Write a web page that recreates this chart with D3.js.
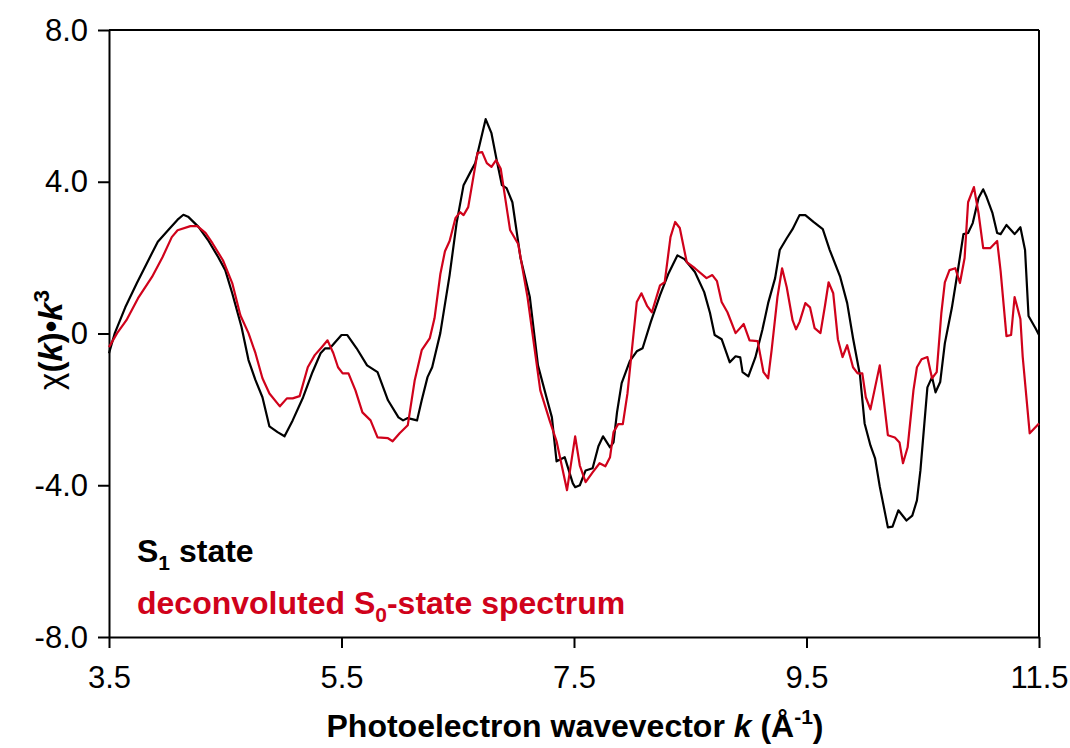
<!DOCTYPE html>
<html><head><meta charset="utf-8">
<script src="https://cdn.jsdelivr.net/npm/d3@7"></script>
<style>body{margin:0;background:#fff;} svg{display:block;font-family:"Liberation Sans",Arial,sans-serif;}</style>
</head><body>
<svg id="c" width="1070" height="748"></svg>
<script>
const xTicks = [3.5, 5.5, 7.5, 9.5, 11.5];
const yTicks = [-8, -4, 0, 4, 8];
const yTickLabels = ["-8.0", "-4.0", "0", "4.0", "8.0"];

const s1K = [3.50,3.55,3.64,3.74,3.84,3.92,4.01,4.09,4.14,4.18,4.27,4.35,4.44,4.50,4.56,4.64,4.70,4.76,4.82,4.88,4.95,5.01,5.08,5.17,5.25,5.32,5.36,5.40,5.50,5.55,5.63,5.72,5.76,5.81,5.90,5.99,6.03,6.07,6.15,6.19,6.24,6.28,6.35,6.43,6.49,6.55,6.61,6.65,6.74,6.79,6.84,6.88,6.92,6.97,7.04,7.12,7.19,7.27,7.31,7.35,7.42,7.49,7.51,7.55,7.60,7.66,7.71,7.75,7.81,7.84,7.87,7.91,7.98,8.04,8.09,8.16,8.24,8.31,8.39,8.45,8.54,8.62,8.67,8.71,8.77,8.84,8.89,8.93,8.95,9.00,9.06,9.12,9.17,9.23,9.27,9.33,9.38,9.44,9.49,9.56,9.64,9.70,9.79,9.85,9.90,9.96,10.00,10.05,10.09,10.13,10.18,10.20,10.24,10.29,10.36,10.41,10.45,10.48,10.54,10.58,10.61,10.65,10.69,10.75,10.80,10.85,10.89,10.93,10.98,11.02,11.05,11.10,11.14,11.17,11.22,11.29,11.34,11.38,11.41,11.47,11.50];
const s1Chi = [-0.52,0.01,0.69,1.33,1.94,2.42,2.73,3.00,3.13,3.08,2.81,2.47,2.01,1.67,1.06,0.17,-0.70,-1.23,-1.68,-2.45,-2.60,-2.71,-2.29,-1.68,-1.02,-0.52,-0.39,-0.39,-0.04,-0.04,-0.39,-0.84,-0.92,-1.02,-1.76,-2.21,-2.29,-2.23,-2.29,-1.76,-1.15,-0.89,0.01,1.54,2.91,3.91,4.26,4.49,5.65,5.28,4.49,3.91,3.83,3.46,1.99,0.96,-0.84,-1.76,-2.21,-3.37,-3.26,-3.95,-4.05,-4.00,-3.61,-3.55,-2.97,-2.71,-3.00,-2.87,-2.08,-1.31,-0.73,-0.47,-0.39,0.30,1.01,1.56,2.06,1.96,1.62,1.09,0.54,-0.04,-0.15,-0.76,-0.60,-0.63,-1.02,-1.13,-0.63,0.09,0.80,1.46,2.20,2.51,2.75,3.12,3.12,2.94,2.75,2.20,1.49,0.80,-0.12,-1.10,-2.37,-2.95,-3.29,-4.03,-4.80,-5.11,-5.09,-4.66,-4.93,-4.80,-4.40,-3.61,-1.42,-1.15,-1.55,-1.28,-0.26,0.67,1.62,2.62,2.65,2.91,3.57,3.80,3.59,3.17,2.65,2.62,2.86,2.62,2.80,2.20,0.46,0.14,-0.04];

const s0K = [3.50,3.57,3.65,3.75,3.87,3.96,4.04,4.09,4.20,4.26,4.33,4.39,4.48,4.56,4.63,4.70,4.76,4.82,4.88,4.97,5.03,5.08,5.14,5.21,5.27,5.33,5.38,5.43,5.47,5.51,5.56,5.62,5.68,5.75,5.81,5.90,5.94,6.00,6.07,6.13,6.19,6.26,6.30,6.35,6.39,6.43,6.48,6.52,6.55,6.59,6.67,6.71,6.75,6.79,6.83,6.87,6.95,7.02,7.10,7.21,7.29,7.35,7.44,7.51,7.55,7.60,7.66,7.72,7.77,7.81,7.84,7.88,7.92,7.96,8.04,8.08,8.13,8.17,8.24,8.28,8.33,8.37,8.41,8.47,8.54,8.64,8.69,8.73,8.77,8.82,8.89,8.96,9.01,9.08,9.13,9.17,9.20,9.25,9.29,9.33,9.38,9.41,9.44,9.49,9.53,9.57,9.62,9.66,9.69,9.73,9.77,9.81,9.85,9.90,9.94,9.98,10.01,10.05,10.09,10.13,10.20,10.26,10.30,10.33,10.37,10.42,10.45,10.49,10.54,10.58,10.62,10.66,10.69,10.73,10.78,10.82,10.86,10.89,10.94,10.98,11.02,11.08,11.14,11.17,11.22,11.26,11.29,11.34,11.36,11.42,11.50];
const s0Chi = [-0.36,0.01,0.35,0.93,1.49,2.01,2.54,2.72,2.83,2.83,2.65,2.38,1.93,1.33,0.48,0.01,-0.52,-1.18,-1.58,-1.92,-1.71,-1.71,-1.65,-0.89,-0.57,-0.36,-0.18,-0.52,-0.89,-1.05,-1.05,-1.50,-2.08,-2.29,-2.74,-2.76,-2.84,-2.63,-2.42,-1.23,-0.44,-0.12,0.40,1.56,2.17,2.44,3.04,3.20,3.12,3.33,4.76,4.78,4.49,4.39,4.57,4.34,2.73,2.36,0.96,-1.50,-2.29,-2.84,-4.13,-2.71,-3.48,-3.92,-3.66,-3.42,-3.50,-3.26,-2.60,-2.39,-2.39,-1.58,0.83,1.06,0.72,0.56,1.27,1.35,2.54,2.94,2.78,1.88,1.72,1.46,1.54,1.38,0.83,0.56,0.01,0.25,-0.18,-0.20,-1.02,-1.18,-0.44,0.96,1.72,1.22,0.35,0.11,0.30,0.80,0.69,0.14,0.01,0.75,1.35,1.06,-0.15,-0.62,-0.31,-0.89,-1.05,-1.05,-1.68,-2.00,-1.42,-0.84,-2.68,-2.74,-2.87,-3.42,-3.00,-1.50,-0.89,-0.68,-0.62,-1.18,-1.02,0.54,1.35,1.67,1.72,1.33,1.99,3.46,3.86,3.17,2.25,2.25,2.44,1.64,-0.07,-0.04,0.96,0.38,-0.62,-2.63,-2.37];

const W = 1070, H = 748;
const m = {left: 109, right: 1039, top: 30, bottom: 637};
const svg = d3.select("#c");
const x = d3.scaleLinear().domain([3.5, 11.5]).range([m.left, m.right]);
const y = d3.scaleLinear().domain([-8, 8]).range([m.bottom, m.top]);
const red = "#d0021b";

svg.append("line").attr("x1", m.left).attr("x2", m.right).attr("y1", m.top).attr("y2", m.top).attr("stroke", "#000").attr("stroke-width", 2);
svg.append("line").attr("x1", m.right).attr("x2", m.right).attr("y1", m.top).attr("y2", m.bottom).attr("stroke", "#000").attr("stroke-width", 2);

const xAxis = svg.append("g").attr("transform", `translate(0,${m.bottom})`)
  .call(d3.axisBottom(x).tickValues(xTicks).tickFormat(d3.format(".1f")).tickSize(11).tickSizeOuter(0));
const yAxis = svg.append("g").attr("transform", `translate(${m.left},0)`)
  .call(d3.axisLeft(y).tickValues(yTicks).tickFormat((d, i) => yTickLabels[i]).tickSize(11).tickSizeOuter(0));
[xAxis, yAxis].forEach(g => {
  g.select(".domain").attr("stroke", "#000").attr("stroke-width", 2);
  g.selectAll(".tick line").attr("stroke", "#000").attr("stroke-width", 2);
  g.selectAll("text").attr("font-size", 31).attr("fill", "#000").attr("font-family", "Liberation Sans, Arial, sans-serif");
});
xAxis.selectAll("text").attr("y", 0).attr("dy", 51);
yAxis.selectAll("text").attr("x", -21).attr("dy", 10);

const line = d3.line().x(d => x(d[0])).y(d => y(d[1]));
const s1 = s1K.map((k, i) => [k, s1Chi[i]]);
const s0 = s0K.map((k, i) => [k, s0Chi[i]]);
svg.append("path").datum(s1).attr("d", line).attr("fill", "none").attr("stroke", "#000").attr("stroke-width", 2.2).attr("stroke-linejoin", "round");
svg.append("path").datum(s0).attr("d", line).attr("fill", "none").attr("stroke", red).attr("stroke-width", 2.2).attr("stroke-linejoin", "round");

const xt = svg.append("text").attr("x", 575).attr("y", 737).attr("text-anchor", "middle")
  .attr("font-size", 32).attr("font-weight", "bold").attr("fill", "#000");
xt.append("tspan").text("Photoelectron wavevector ");
xt.append("tspan").attr("font-style", "italic").text("k");
xt.append("tspan").text(" (Å");
xt.append("tspan").attr("font-size", 21).attr("dy", -13).text("-1");
xt.append("tspan").attr("dy", 13).text(")");

const yt = svg.append("text").attr("transform", "translate(62,340) rotate(-90)").attr("text-anchor", "middle")
  .attr("font-size", 33).attr("font-weight", "bold").attr("fill", "#000");
yt.append("tspan").attr("font-weight", "normal").text("χ");
yt.append("tspan").text("(");
yt.append("tspan").attr("font-style", "italic").text("k");
yt.append("tspan").text(")•");
yt.append("tspan").attr("font-style", "italic").text("k");
yt.append("tspan").attr("font-size", 22).attr("dy", -13).text("3");

const l1 = svg.append("text").attr("x", 137).attr("y", 562).attr("font-size", 32).attr("font-weight", "bold").attr("fill", "#000");
l1.append("tspan").text("S");
l1.append("tspan").attr("font-size", 21).attr("dy", 8).text("1");
l1.append("tspan").attr("dy", -8).text(" state");
const l2 = svg.append("text").attr("x", 137).attr("y", 614).attr("font-size", 32).attr("font-weight", "bold").attr("fill", red);
l2.append("tspan").text("deconvoluted S");
l2.append("tspan").attr("font-size", 21).attr("dy", 8).text("0");
l2.append("tspan").attr("dy", -8).text("-state spectrum");
</script>
</body></html>
